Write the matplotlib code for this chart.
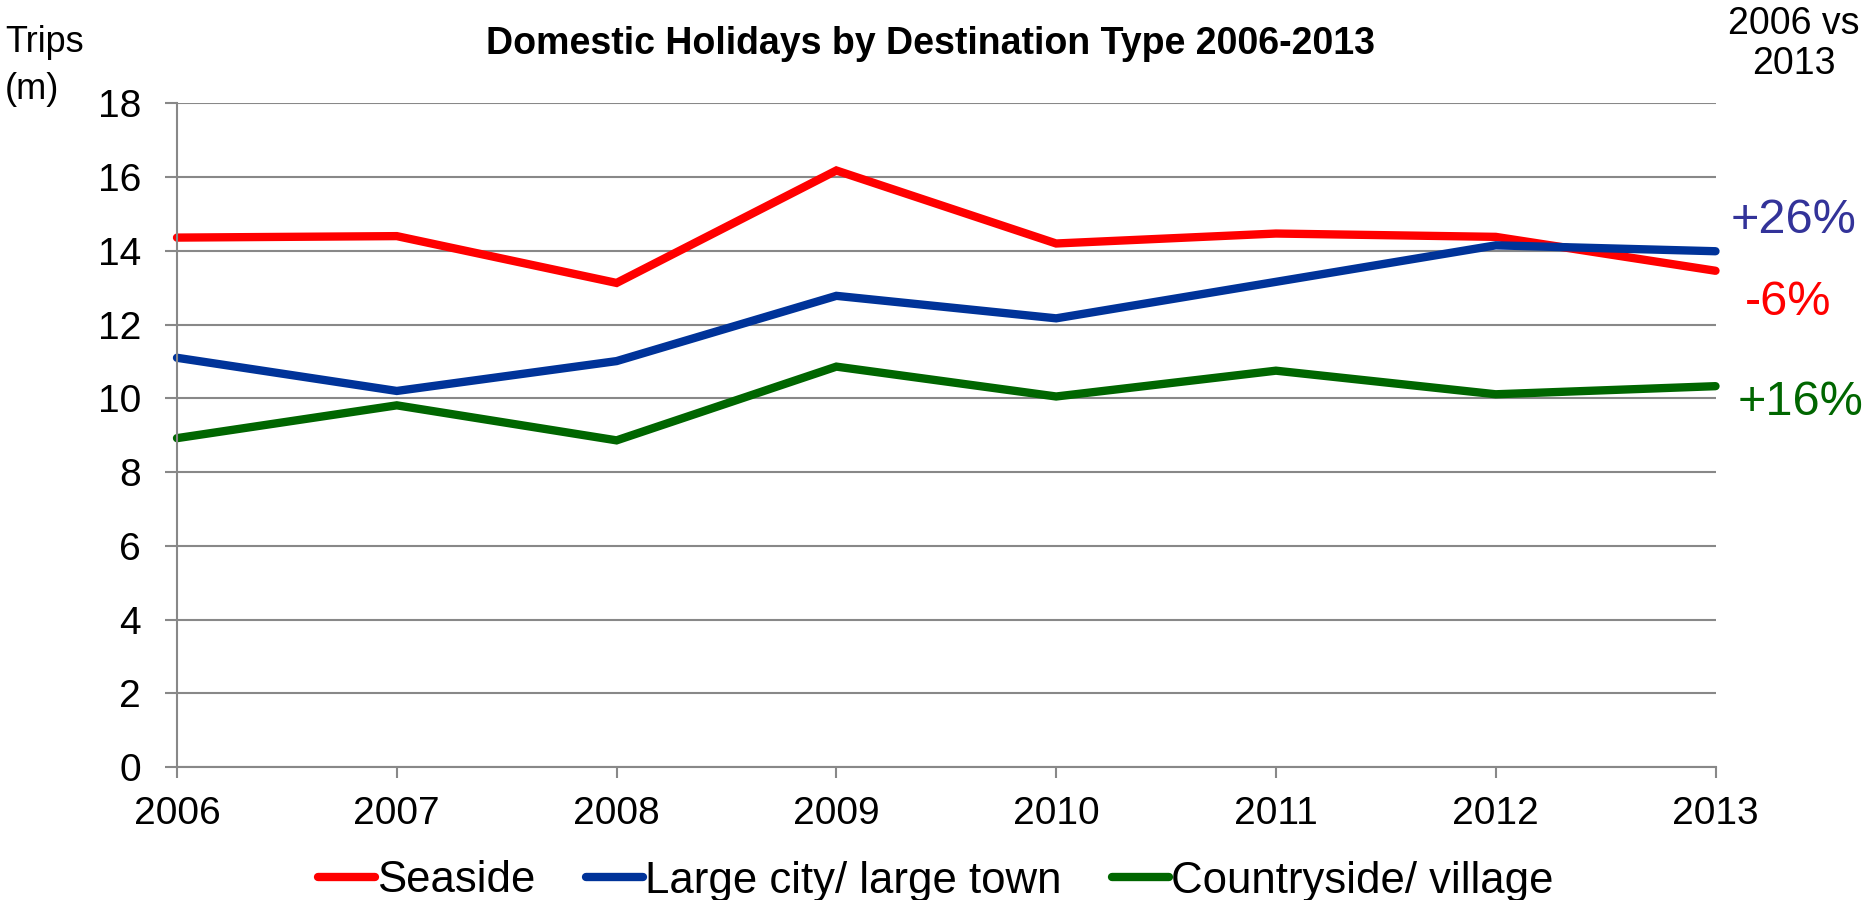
import matplotlib
matplotlib.use('Agg')
import matplotlib.pyplot as plt

plt.rcParams['font.family'] = ['Liberation Sans', 'DejaVu Sans']

# Trips (m)
years = [2006, 2007, 2008, 2009, 2010, 2011, 2012, 2013]
seaside = [14.36, 14.40, 13.13, 16.18, 14.20, 14.47, 14.38, 13.46]
large_city = [11.10, 10.20, 11.01, 12.78, 12.17, 13.16, 14.15, 13.99]
countryside = [8.92, 9.81, 8.86, 10.86, 10.05, 10.75, 10.11, 10.33]

series_names = ['Seaside', 'Large city/ large town', 'Countryside/ village']
series_colors = ['#FF0000', '#003399', '#006600']
change_labels = ['-6%', '+26%', '+16%']
change_colors = ['#FF0000', '#333399', '#006600']
# offsets (points) of each change label from the 2013 point
change_offsets = [(52, -23), (56, 22), (61, -12)]

yticks = [0, 2, 4, 6, 8, 10, 12, 14, 16, 18]

W, H = 1864, 900
fig = plt.figure(figsize=(W / 100, H / 100), dpi=100)
ax = fig.add_axes([177 / W, (H - 767) / H, (1715.5 - 177) / W, (767 - 103.4) / H])

grey = '#888888'
for vals, name, col in zip([seaside, large_city, countryside],
                           series_names, series_colors):
    ax.plot(years, vals, color=col, lw=6, label=name,
            solid_capstyle='round', solid_joinstyle='miter', clip_on=False)

ax.set_xlim(years[0], years[-1])
ax.set_ylim(0, 18)
ax.set_xticks(years)
ax.set_yticks(yticks)
ax.set_xticklabels([str(y) for y in years])
ax.yaxis.grid(True, color=grey, lw=1.5)
ax.set_axisbelow(True)
for s in ['top', 'right']:
    ax.spines[s].set_visible(False)
for s in ['left', 'bottom']:
    ax.spines[s].set_color(grey)
    ax.spines[s].set_linewidth(1.5)
ax.tick_params(axis='y', length=9, width=1.5, color=grey, pad=17,
               labelsize=28)
ax.tick_params(axis='x', length=8, width=1.5, color=grey, pad=13,
               labelsize=28)

for vals, lab, col, off in zip([seaside, large_city, countryside],
                               change_labels, change_colors, change_offsets):
    ax.annotate(lab, xy=(years[-1], vals[-1]), xytext=off,
                textcoords='offset points', ha='center', va='center',
                fontsize=35, color=col, annotation_clip=False)

fig.text(931 / W, 1 - 44 / H,
         'Domestic Holidays by Destination Type 2006-2013',
         ha='center', va='center', fontsize=27, fontweight='bold')
fig.text(5 / W, 1 - 66 / H, 'Trips\n(m)', ha='left', va='center',
         fontsize=26, linespacing=1.45)
fig.text(1794 / W, 1 - 44 / H, '2006 vs\n2013', ha='center', va='center',
         fontsize=27, linespacing=1.15)

fig.legend(loc='center', bbox_to_anchor=(936 / W, 1 - 881 / H), ncol=3,
           frameon=False, fontsize=31.5, handlelength=1.3,
           handletextpad=0.05, columnspacing=1.15, borderaxespad=0)

fig.savefig('out.png', dpi=100)
plt.close(fig)
